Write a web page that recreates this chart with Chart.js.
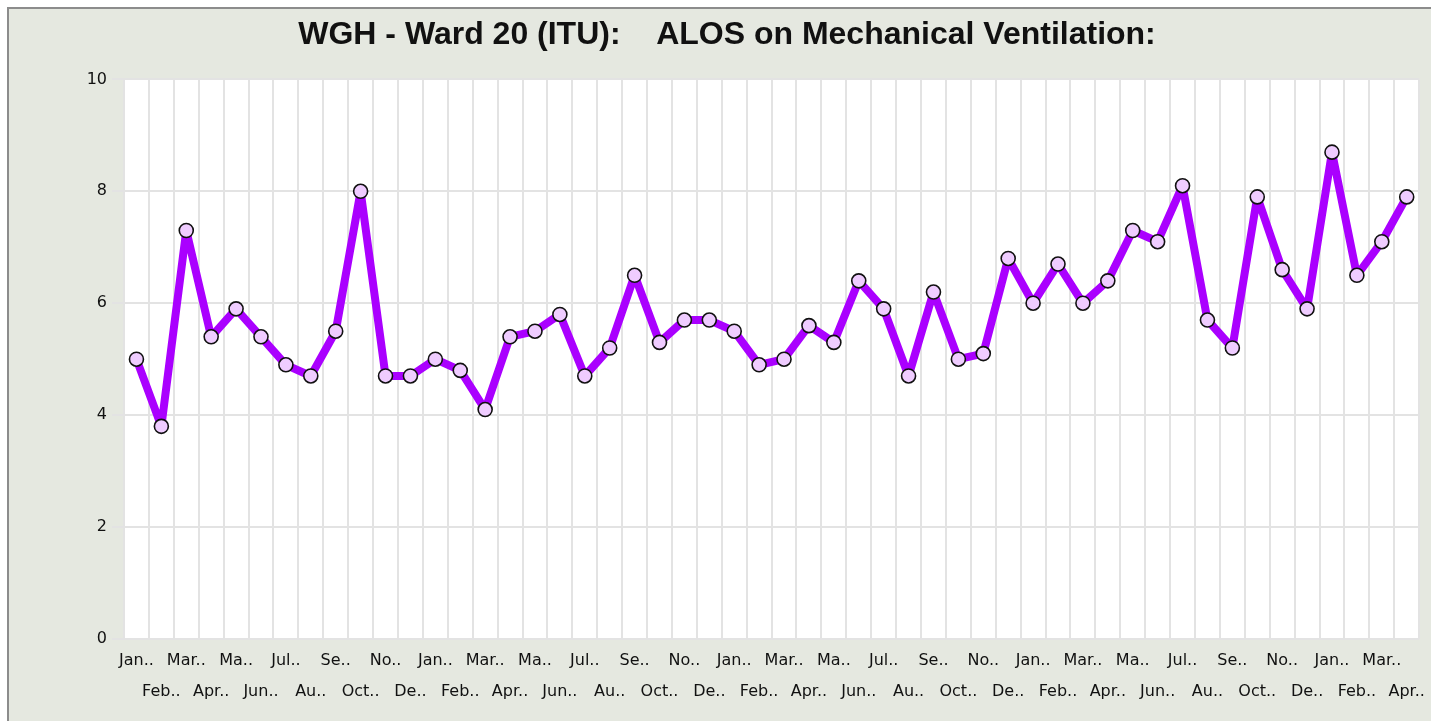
<!DOCTYPE html>
<html>
<head>
<meta charset="utf-8">
<script src="https://cdn.jsdelivr.net/npm/chart.js@4"></script>
<style>
  html, body { margin: 0; padding: 0; background: #ffffff; overflow: hidden; }
  #frame { position: absolute; left: 7px; top: 7px; width: 1440px; height: 730px;
           background: #e5e8e0; border-left: 2px solid #8c8c8c; border-top: 2px solid #8c8c8c; }
  #c { position: absolute; left: 0; top: 0; }
</style>
</head>
<body>
<div id="frame"></div>
<canvas id="c" width="1431" height="721"></canvas>
<script>
// ---- data ----
const chartTitle = 'WGH - Ward 20 (ITU):    ALOS on Mechanical Ventilation:';
const categories = [
  'Jan..','Feb..','Mar..','Apr..','Ma..','Jun..','Jul..','Au..','Se..','Oct..','No..','De..',
  'Jan..','Feb..','Mar..','Apr..','Ma..','Jun..','Jul..','Au..','Se..','Oct..','No..','De..',
  'Jan..','Feb..','Mar..','Apr..','Ma..','Jun..','Jul..','Au..','Se..','Oct..','No..','De..',
  'Jan..','Feb..','Mar..','Apr..','Ma..','Jun..','Jul..','Au..','Se..','Oct..','No..','De..',
  'Jan..','Feb..','Mar..','Apr..'
];
const alosValues = [
  5.0, 3.8, 7.3, 5.4, 5.9, 5.4, 4.9, 4.7, 5.5, 8.0, 4.7, 4.7,
  5.0, 4.8, 4.1, 5.4, 5.5, 5.8, 4.7, 5.2, 6.5, 5.3, 5.7, 5.7,
  5.5, 4.9, 5.0, 5.6, 5.3, 6.4, 5.9, 4.7, 6.2, 5.0, 5.1, 6.8,
  6.0, 6.7, 6.0, 6.4, 7.3, 7.1, 8.1, 5.7, 5.2, 7.9, 6.6, 5.9,
  8.7, 6.5, 7.1, 7.9
];
const yMin = 0;
const yMax = 10;
const yStep = 2;

// ---- chart ----
const plotBg = {
  id: 'plotBg',
  beforeDraw(chart) {
    const {ctx, chartArea: a} = chart;
    ctx.save();
    ctx.fillStyle = '#ffffff';
    ctx.fillRect(a.left, a.top, a.right - a.left, a.bottom - a.top);
    ctx.restore();
  }
};

new Chart(document.getElementById('c'), {
  type: 'line',
  data: {
    labels: categories,
    datasets: [{
      data: alosValues,
      borderColor: '#aa00ff',
      borderWidth: 8,
      borderJoinStyle: 'round',
      borderCapStyle: 'round',
      tension: 0,
      fill: false,
      pointRadius: 7,
      pointHoverRadius: 7,
      pointBackgroundColor: '#efccff',
      pointBorderColor: '#111111',
      pointBorderWidth: 1.6
    }]
  },
  options: {
    responsive: false,
    animation: false,
    devicePixelRatio: 1,
    layout: { padding: { left: 34, right: 11, top: 0, bottom: 0 } },
    plugins: {
      legend: { display: false },
      tooltip: { enabled: false },
      title: {
        display: true,
        text: chartTitle,
        color: '#111111',
        font: { family: '"Liberation Sans", Arial, sans-serif', size: 32, weight: 'bold', lineHeight: 1.2 },
        padding: { top: 16, bottom: 25 }
      }
    },
    scales: {
      x: {
        type: 'category',
        offset: true,
        grid: { offset: true, color: '#e3e3e3', lineWidth: 2, drawTicks: false },
        border: { display: false },
        ticks: {
          autoSkip: false,
          maxRotation: 0,
          minRotation: 0,
          padding: 6,
          color: '#111111',
          font: { family: '"DejaVu Sans", sans-serif', size: 16, lineHeight: 1.97 },
          callback: function (value, index) {
            const lab = categories[index];
            return index % 2 === 0 ? [lab, ''] : ['', lab];
          }
        },
        afterFit(scale) { scale.height = 82; }
      },
      y: {
        min: yMin,
        max: yMax,
        grid: { color: '#e3e3e3', lineWidth: 2, drawTicks: true, tickLength: 12 },
        border: { display: false },
        ticks: {
          stepSize: yStep,
          padding: 5,
          color: '#111111',
          font: { family: '"DejaVu Sans", sans-serif', size: 16 }
        },
        afterFit(scale) { scale.width = 90; }
      }
    }
  },
  plugins: [plotBg]
});
</script>
</body>
</html>
